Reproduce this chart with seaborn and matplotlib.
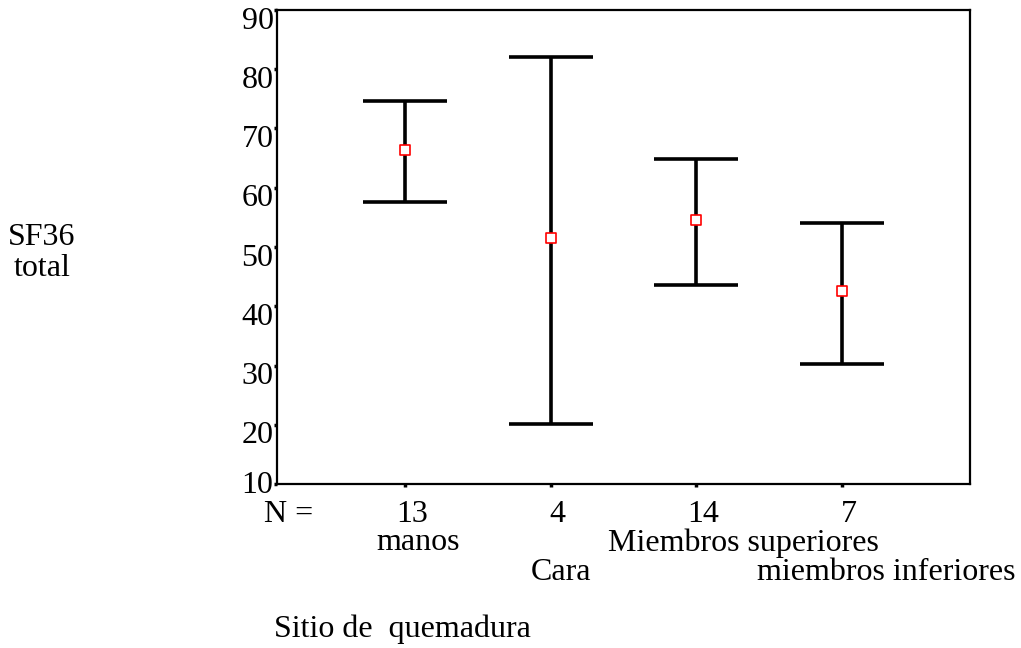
import matplotlib
matplotlib.use("Agg")
import matplotlib.pyplot as plt
import matplotlib.transforms as mtransforms
import seaborn as sns
import pandas as pd

categories = ["manos", "Cara", "Miembros superiores", "miembros inferiores"]
counts = ["13", "4", "14", "7"]
means = [66.4, 51.5, 54.6, 42.6]
upper = [74.6, 82.1, 64.9, 54.1]
lower = [57.6, 20.1, 43.6, 30.3]
yticks = [10, 20, 30, 40, 50, 60, 70, 80, 90]

sns.set_theme(style="white")
plt.rcParams["font.family"] = ["Liberation Serif", "DejaVu Serif"]
plt.rcParams["text.color"] = "black"
plt.rcParams["xtick.color"] = "black"
plt.rcParams["ytick.color"] = "black"

df = pd.DataFrame({"pos": [1, 2, 3, 4], "mean": means, "lo": lower, "hi": upper,
                   "cat": categories, "n": counts})

fig = plt.figure(figsize=(10.21, 6.48), dpi=100)
W, H = 1021, 648
ax = fig.add_axes([277 / W, 1 - 484 / H, 693 / W, 474 / H])

err = [[m - l for m, l in zip(df["mean"], df["lo"])],
       [h - m for m, h in zip(df["mean"], df["hi"])]]
ax.errorbar(df["pos"], df["mean"], yerr=err, fmt="none", ecolor="black",
            elinewidth=2.6, capsize=30, capthick=2.6, zorder=2)
sns.scatterplot(data=df, x="pos", y="mean", marker="s", s=60, facecolor="white",
                edgecolor="red", linewidth=1.2, ax=ax, zorder=3)

ax.set_xlim(0.123, 4.877)
ax.set_ylim(10, 90)
ax.set_xlabel("")
ax.set_ylabel("")
for sp in ax.spines.values():
    sp.set_visible(True)
    sp.set_color("black")
    sp.set_linewidth(1.6)

fs = 23
ax.set_yticks(yticks)
ax.set_yticklabels([str(t) for t in yticks])
ax.tick_params(axis="y", direction="out", length=2.5, width=2.5, pad=0,
               labelsize=fs, left=True, colors="black", labelcolor="black")
for t, lab in zip(yticks, ax.get_yticklabels()):
    lab.set_verticalalignment("top")
    dy = 2.5 if t != 10 else 9.5
    lab.set_transform(lab.get_transform() + mtransforms.ScaledTranslation(0, dy / 72, fig.dpi_scale_trans))

ax.set_xticks(df["pos"])
ax.set_xticklabels(df["n"])
ax.tick_params(axis="x", direction="out", length=2.5, width=2.5, pad=9,
               labelsize=fs, bottom=True, colors="black", labelcolor="black")
for lab in ax.get_xticklabels():
    lab.set_transform(lab.get_transform() + mtransforms.ScaledTranslation(0.07, 0, fig.dpi_scale_trans))

fig.text(264 / W, 1 - 514 / H, "N =", ha="left", va="center", fontsize=fs, color="black")
cat_x = [418, 561, 743, 886]
cat_y = [543, 573, 543, 573]
for c, xx, yy in zip(df["cat"], cat_x, cat_y):
    fig.text(xx / W, 1 - yy / H, c, ha="center", va="center", fontsize=fs, color="black")

fig.text(274 / W, 1 - 629 / H, "Sitio de  quemadura", ha="left", va="center", fontsize=fs,
         color="black")
fig.text(42 / W, 1 - 253 / H, "SF36\ntotal", ha="center", va="center", fontsize=fs,
         linespacing=1.1, color="black")

fig.savefig("out.png", dpi=100)
